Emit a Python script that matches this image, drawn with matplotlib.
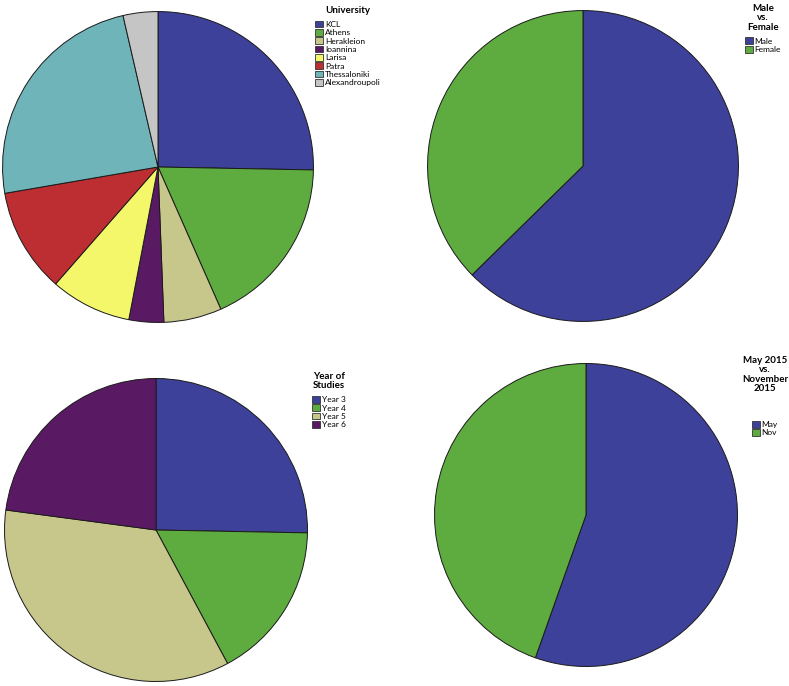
import matplotlib
matplotlib.use("Agg")
import matplotlib.pyplot as plt

plt.rcParams["font.family"] = ["Lato", "DejaVu Sans"]

W, H = 789, 686

# values (counts, n = 83)
uni_labels = ["KCL", "Athens", "Herakleion", "Ioannina", "Larisa", "Patra",
              "Thessaloniki", "Alexandroupoli"]
uni_counts = [21, 15, 5, 3, 7, 9, 20, 3]

sex_labels = ["Male", "Female"]
sex_counts = [52, 31]

year_labels = ["Year 3", "Year 4", "Year 5", "Year 6"]
year_counts = [21, 14, 29, 19]

exam_labels = ["May", "Nov"]
exam_counts = [46, 37]

blue = "#3d4199"
green = "#5eab40"
tan = "#c7c68b"
purple = "#5a1a63"
yellow = "#f5f76b"
red = "#bc2e31"
teal = "#6fb4b9"
grey = "#c5c5c5"

uni_colors = [blue, green, tan, purple, yellow, red, teal, grey]
two_colors = [blue, green]
year_colors = [blue, green, tan, purple]

fig = plt.figure(figsize=(W / 100, H / 100), dpi=100)


def pie_panel(cx, cy, r, values, colors, labels, title, lx, ly, gap=4):
    ax = fig.add_axes([(cx - r) / W, (H - cy - r) / H, 2 * r / W, 2 * r / H])
    wedges, _ = ax.pie(values, colors=colors, startangle=90, counterclock=False,
                       radius=1.0,
                       wedgeprops={"edgecolor": "#1a1a1a", "linewidth": 0.7})
    ax.set_xlim(-1.01, 1.01)
    ax.set_ylim(-1.01, 1.01)
    ax.set_aspect("equal")
    ax.axis("off")
    # lx is the centre of the legend block
    leg = fig.legend(wedges, labels, title=title, loc="upper center",
                     bbox_to_anchor=(lx / W, 1 - ly / H),
                     frameon=False, fontsize=6, alignment="center",
                     title_fontproperties={"weight": "bold", "size": 7},
                     handlelength=0.9, handleheight=0.9, handletextpad=0.25,
                     labelspacing=0.12, borderpad=0, borderaxespad=0)
    leg._legend_box.sep = gap
    leg.get_title().set_multialignment("center")
    leg.get_title().set_linespacing(1.05)
    for h in leg.legend_handles:
        h.set_linewidth(0.6)
        h.set_edgecolor("#333333")
    return ax


pie_panel(158, 167, 157, uni_counts, uni_colors, uni_labels, "University", 348, 6)
pie_panel(583, 166, 157, sex_counts, two_colors, sex_labels, "Male\nvs.\nFemale", 763, 4)
pie_panel(156, 530, 153, year_counts, year_colors, year_labels, "Year of\nStudies", 329, 372)
pie_panel(586, 515, 153, exam_counts, two_colors, exam_labels,
          "May 2015\nvs.\nNovember\n2015", 765, 356, gap=20)

plt.savefig("out.png", dpi=100)
plt.close()
